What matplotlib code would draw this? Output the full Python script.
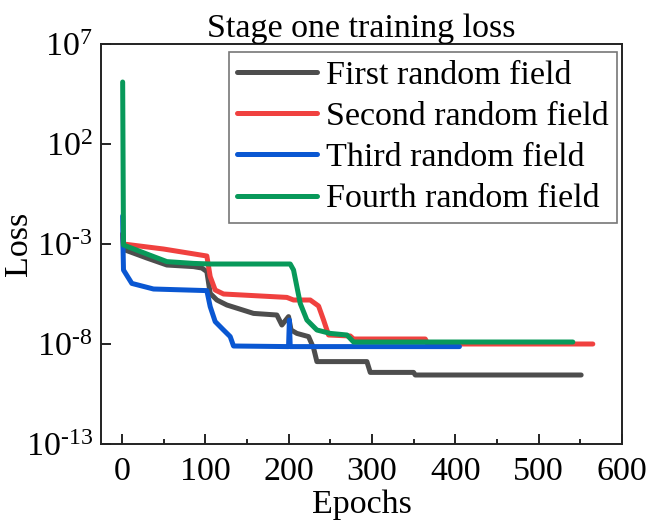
import matplotlib
matplotlib.use("Agg")
import matplotlib.pyplot as plt
from matplotlib.ticker import MultipleLocator, FixedLocator, FuncFormatter
import numpy as np

plt.rcParams['font.family'] = ['Liberation Serif', 'DejaVu Serif']
plt.rcParams['mathtext.fontset'] = 'custom'
plt.rcParams['mathtext.rm'] = 'Liberation Serif'
plt.rcParams['mathtext.it'] = 'Liberation Serif:italic'
plt.rcParams['mathtext.bf'] = 'Liberation Serif:bold'
plt.rcParams['axes.unicode_minus'] = False

FS = 24.5

# epoch / log10(loss) breakpoints of each run
first_x = [1, 2, 30, 54, 86, 96, 102, 106, 114, 126, 158, 186, 192, 200, 203, 210, 224, 230, 234, 294, 298, 350, 352, 551]
first_y = [-2.5, -3.27, -3.7, -4.05, -4.13, -4.2, -4.38, -5.47, -5.8, -6.05, -6.47, -6.55, -7.05, -6.63, -7.3, -7.47, -7.63, -8.2, -8.88, -8.88, -9.42, -9.42, -9.55, -9.55]

second_x = [1, 2, 50, 102, 106, 112, 122, 198, 206, 226, 236, 242, 246, 248, 274, 278, 364, 367, 565]
second_y = [-2.5, -3.0, -3.25, -3.6, -4.63, -5.3, -5.5, -5.67, -5.8, -5.8, -6.1, -6.8, -7.3, -7.55, -7.6, -7.75, -7.75, -8.0, -8.0]

third_x = [1, 1.5, 2, 12, 38, 102, 106, 112, 122, 130, 134, 200, 201, 202, 405]
third_y = [-1.6, -3.3, -4.3, -4.97, -5.25, -5.33, -6.13, -6.88, -7.3, -7.63, -8.1, -8.13, -6.8, -8.13, -8.13]

fourth_x = [1, 2, 30, 54, 86, 106, 202, 206, 214, 222, 234, 250, 270, 278, 541]
fourth_y = [5.1, -3.05, -3.5, -3.88, -3.97, -4.0, -4.0, -4.3, -5.97, -6.8, -7.3, -7.47, -7.55, -7.9, -7.9]

labels = ['First random field', 'Second random field', 'Third random field', 'Fourth random field']
colors = ['#4d4d4d', '#f0413f', '#0a57d2', '#08995a']


def pow10_label(v, pos):
    # exponent with a plain hyphen instead of the wide math minus
    e = int(round(np.log10(v)))
    s = str(e).replace('-', '\u2010')
    return r'$\mathregular{10^{%s}}$' % s


fig = plt.figure(figsize=(6.49, 5.21), dpi=100)
ax = fig.add_axes([0.1556, 0.1478, 0.8028, 0.7677])

series = [(first_x, first_y), (second_x, second_y), (third_x, third_y), (fourth_x, fourth_y)]
for (xs, ys), lab, c in zip(series, labels, colors):
    ax.plot(xs, 10.0 ** np.array(ys), color=c, lw=3.6, label=lab,
            solid_capstyle='round', solid_joinstyle='round')

ax.set_yscale('log')
ax.set_xlim(-25, 600)
ax.set_ylim(1e-13, 1e7)
ax.yaxis.set_major_locator(FixedLocator([1e-13, 1e-8, 1e-3, 1e2, 1e7]))
ax.yaxis.set_minor_locator(FixedLocator([]))
ax.yaxis.set_major_formatter(FuncFormatter(pow10_label))
ax.xaxis.set_major_locator(MultipleLocator(100))
ax.xaxis.set_minor_locator(MultipleLocator(50))
ax.tick_params(which='both', direction='in', top=False, right=False, labelsize=FS, width=1.2)
ax.tick_params(which='major', length=7)
ax.tick_params(which='minor', length=3.5)
ax.tick_params(axis='x', pad=9)
ax.tick_params(axis='y', pad=6)
for s in ax.spines.values():
    s.set_linewidth(1.4)
    s.set_color('#222222')

ax.set_title('Stage one training loss', fontsize=FS, pad=3)
ax.set_xlabel('Epochs', fontsize=FS)
ax.xaxis.set_label_coords(0.5, -0.115)
ax.set_ylabel('Loss', fontsize=FS)
ax.yaxis.set_label_coords(-0.128, 0.5)

leg = ax.legend(loc='upper right', fontsize=FS, handlelength=2.35, handletextpad=0.24,
                labelspacing=0.3, borderpad=0.25, borderaxespad=0, fancybox=False,
                framealpha=1, bbox_to_anchor=(0.99, 0.98))
leg.get_frame().set_edgecolor('#777777')
leg.get_frame().set_linewidth(1.2)

fig.savefig('out.png', dpi=100)
